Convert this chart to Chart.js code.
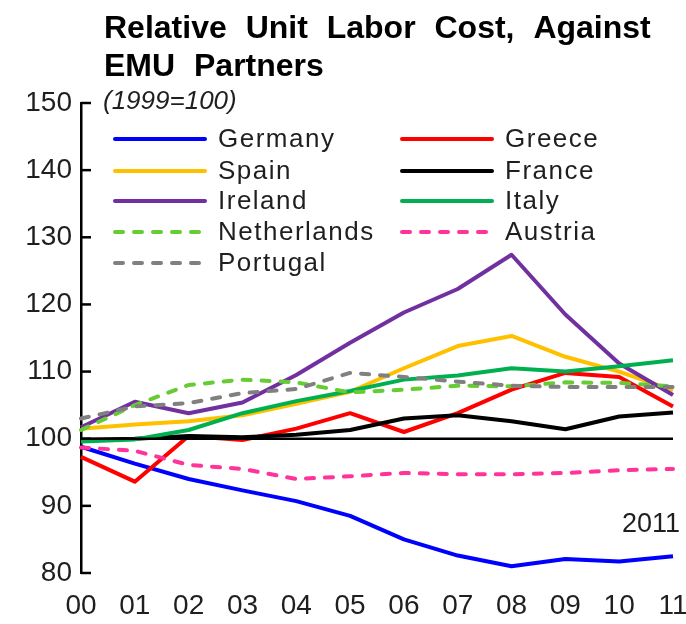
<!DOCTYPE html>
<html>
<head>
<meta charset="utf-8">
<script src="https://cdn.jsdelivr.net/npm/chart.js@4"></script>
<style>
  html, body { margin: 0; padding: 0; background: #fff; }
  #wrap { width: 686px; height: 624px; }
</style>
</head>
<body>
<div id="wrap"><canvas id="ulcChart" width="686" height="624"></canvas></div>
<script>
// Chart data (1999 = 100)
const years = ['00', '01', '02', '03', '04', '05', '06', '07', '08', '09', '10', '11'];
const germany     = [98.8, 96.3, 94.0, 92.3, 90.7, 88.5, 85.0, 82.6, 81.0, 82.1, 81.7, 82.5];
const greece      = [97.3, 93.6, 100.4, 99.8, 101.5, 103.8, 101.0, 103.8, 107.3, 109.8, 109.2, 104.8];
const spain       = [101.5, 102.1, 102.6, 103.5, 105.2, 107.0, 110.5, 113.8, 115.3, 112.2, 110.0, 107.2];
const france      = [99.8, 100.0, 100.4, 100.2, 100.6, 101.3, 103.0, 103.5, 102.6, 101.4, 103.3, 103.9];
const ireland     = [101.7, 105.5, 103.8, 105.4, 109.5, 114.3, 118.8, 122.3, 127.4, 118.5, 111.2, 106.5];
const italy       = [99.6, 99.9, 101.3, 103.8, 105.6, 107.1, 108.8, 109.4, 110.5, 110.0, 110.8, 111.7];
const netherlands = [101.3, 105.0, 108.0, 108.8, 108.4, 106.9, 107.3, 107.9, 107.8, 108.4, 108.3, 107.8];
const austria     = [98.7, 98.2, 96.1, 95.5, 94.0, 94.4, 94.9, 94.7, 94.7, 94.9, 95.3, 95.5];
const portugal    = [103.0, 104.8, 105.3, 106.8, 107.4, 109.8, 109.2, 108.5, 107.9, 107.7, 107.7, 107.7];
const baseline = 100;
const yTicks = [80, 90, 100, 110, 120, 130, 140, 150];

const series = [
  { label: 'Germany', data: germany, color: '#0000ff' },
  { label: 'Greece', data: greece, color: '#ff0000' },
  { label: 'Spain', data: spain, color: '#ffc000' },
  { label: 'France', data: france, color: '#000000' },
  { label: 'Ireland', data: ireland, color: '#7030a0' },
  { label: 'Italy', data: italy, color: '#00b050' },
  { label: 'Netherlands', data: netherlands, color: '#66cc33', dash: true },
  { label: 'Austria', data: austria, color: '#ff3399', dash: true },
  { label: 'Portugal', data: portugal, color: '#808080', dash: true }
];

const FONT = "'Liberation Sans', Arial, sans-serif";

// Title, subtitle and the "2011" note
const titlePlugin = {
  id: 'titleText',
  afterDraw(chart) {
    const ctx = chart.ctx;
    ctx.save();
    ctx.fillStyle = '#000';
    ctx.textBaseline = 'alphabetic';
    ctx.font = 'bold 32px ' + FONT;
    if ('wordSpacing' in ctx) ctx.wordSpacing = '10px';
    ctx.fillText('Relative Unit Labor Cost, Against', 104, 38);
    ctx.fillText('EMU Partners', 104, 76);
    if ('wordSpacing' in ctx) ctx.wordSpacing = '0px';
    ctx.fillStyle = '#1f1f1f';
    ctx.font = 'italic 26px ' + FONT;
    ctx.fillText('(1999=100)', 103, 109);
    ctx.font = '27px ' + FONT;
    ctx.textAlign = 'right';
    ctx.fillText('2011', 680, 532);
    ctx.restore();
  }
};

// Inward ticks on the y axis and the 100 reference line
const axisPlugin = {
  id: 'axisExtras',
  afterDatasetsDraw(chart) {
    const ctx = chart.ctx;
    const y = chart.scales.y;
    const area = chart.chartArea;
    ctx.save();
    ctx.strokeStyle = '#000';
    ctx.lineWidth = 2.5;
    yTicks.forEach(v => {
      const py = y.getPixelForValue(v);
      ctx.beginPath();
      ctx.moveTo(area.left, py);
      ctx.lineTo(area.left + 10, py);
      ctx.stroke();
    });
    const by = y.getPixelForValue(baseline);
    ctx.beginPath();
    ctx.moveTo(area.left, by);
    ctx.lineTo(area.right, by);
    ctx.stroke();
    ctx.restore();
  }
};

// Two-column legend inside the plot
const legendPlugin = {
  id: 'twoColLegend',
  afterDatasetsDraw(chart) {
    const ctx = chart.ctx;
    const cols = [115, 402];
    const rowY = [139, 171, 201, 232, 263];
    ctx.save();
    chart.data.datasets.forEach((ds, i) => {
      const x = cols[i % 2];
      const yy = rowY[Math.floor(i / 2)];
      ctx.strokeStyle = ds.borderColor;
      ctx.lineWidth = 4;
      ctx.lineCap = 'round';
      ctx.setLineDash(ds.borderDash || []);
      ctx.beginPath();
      ctx.moveTo(x, yy);
      ctx.lineTo(x + 90, yy);
      ctx.stroke();
      ctx.setLineDash([]);
      ctx.fillStyle = '#1f1f1f';
      ctx.font = '26px ' + FONT;
      if ('letterSpacing' in ctx) ctx.letterSpacing = '1.5px';
      ctx.textBaseline = 'middle';
      ctx.fillText(ds.label, x + 103, yy + 1);
      if ('letterSpacing' in ctx) ctx.letterSpacing = '0px';
    });
    ctx.restore();
  }
};

new Chart(document.getElementById('ulcChart'), {
  type: 'line',
  data: {
    labels: years,
    datasets: series.map((s, i) => ({
      label: s.label,
      data: s.data,
      borderColor: s.color,
      backgroundColor: s.color,
      borderWidth: 4,
      borderDash: s.dash ? [8, 11] : undefined,
      borderCapStyle: s.dash ? 'round' : 'butt',
      borderJoinStyle: 'round',
      pointRadius: 0,
      tension: 0,
      fill: false,
      order: series.length - i
    }))
  },
  options: {
    responsive: false,
    animation: false,
    layout: { padding: { top: 103, right: 13, left: 0, bottom: 0 } },
    plugins: {
      legend: { display: false },
      title: { display: false },
      tooltip: { enabled: false }
    },
    scales: {
      x: {
        offset: false,
        grid: { display: false, drawTicks: false },
        border: { display: false },
        ticks: {
          color: '#1f1f1f',
          font: { family: FONT, size: 28 },
          padding: 16,
          maxRotation: 0,
          autoSkip: false
        },
        afterFit(scale) {
          scale.height = 51;
          scale.paddingLeft = 0;
          scale.paddingRight = 0;
        }
      },
      y: {
        min: 80,
        max: 150,
        grid: { display: false, drawTicks: false },
        border: { display: true, color: '#000', width: 2.5 },
        ticks: {
          stepSize: 10,
          color: '#1f1f1f',
          font: { family: FONT, size: 28 },
          padding: 9
        },
        afterFit(scale) {
          scale.width = 81;
          scale.paddingTop = 0;
          scale.paddingBottom = 0;
        }
      }
    }
  },
  plugins: [axisPlugin, legendPlugin, titlePlugin]
});
</script>
</body>
</html>
